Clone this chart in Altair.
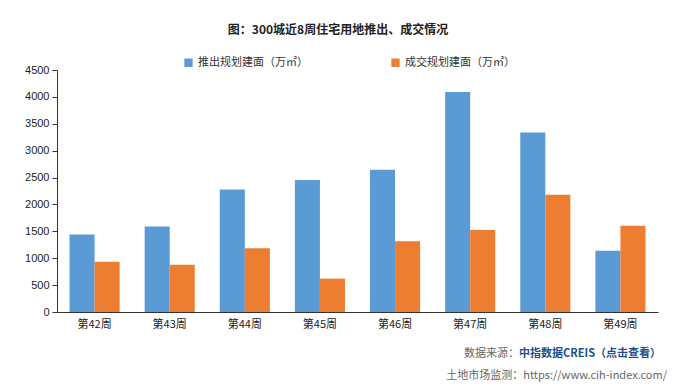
import altair as alt
import pandas as pd

weeks = ["第42周", "第43周", "第44周", "第45周", "第46周", "第47周", "第48周", "第49周"]
supply = [1440, 1590, 2280, 2455, 2645, 4090, 3340, 1140]
deal = [935, 880, 1185, 620, 1315, 1525, 2180, 1605]
series = ["推出规划建面（万㎡）", "成交规划建面（万㎡）"]
colors = ["#5B9BD5", "#ED7D31"]

title_text = "图：300城近8周住宅用地推出、成交情况"
src_label = "数据来源："
src_link = "中指数据CREIS（点击查看）"
src_line2 = "土地市场监测：https://www.cih-index.com/"

rows = []
for w, s, d in zip(weeks, supply, deal):
    rows.append({"week": w, "series": series[0], "value": s})
    rows.append({"week": w, "series": series[1], "value": d})
df = pd.DataFrame(rows)

FONT = "Liberation Sans, Noto Sans CJK SC, sans-serif"
CJK = "Noto Sans CJK SC, sans-serif"

bars = alt.Chart(df).mark_bar().encode(
    x=alt.X("week:N", sort=weeks, title=None,
            scale=alt.Scale(paddingInner=0.333, paddingOuter=0.1667),
            axis=alt.Axis(labelAngle=0, ticks=False, domainColor="#333333",
                          labelColor="#222222", labelFontSize=11, labelFont=CJK,
                          labelPadding=6)),
    xOffset=alt.XOffset("series:N", sort=series, scale=alt.Scale(paddingInner=0, paddingOuter=0)),
    y=alt.Y("value:Q", title=None,
            scale=alt.Scale(domain=[0, 4500], nice=False),
            axis=alt.Axis(values=list(range(0, 4501, 500)), grid=False, format="d",
                          domainColor="#333333", tickColor="#333333", tickSize=5,
                          labelColor="#222222", labelFontSize=11, labelFont=FONT,
                          labelPadding=3)),
    color=alt.Color("series:N", sort=series,
                    scale=alt.Scale(domain=series, range=colors),
                    legend=alt.Legend(title=None, orient="none", direction="horizontal",
                                      legendX=126, legendY=-13, symbolType="square",
                                      symbolSize=70, symbolStrokeWidth=0,
                                      labelFontSize=11, labelFont=CJK, labelColor="#333333",
                                      columnPadding=82, labelLimit=300)),
)

title = alt.Chart(pd.DataFrame({"t": [title_text]})).mark_text(
    font=CJK, fontSize=12, fontWeight="bold", color="#222222", align="center", baseline="middle"
).encode(text="t:N", x=alt.value(281), y=alt.value(-40))

src1 = alt.Chart(pd.DataFrame({"t": [src_label]})).mark_text(
    font=CJK, fontSize=11, color="#666666", align="right", baseline="middle"
).encode(text="t:N", x=alt.value(462), y=alt.value(284))

src2 = alt.Chart(pd.DataFrame({"t": [src_link]})).mark_text(
    font=CJK, fontSize=11, fontWeight="bold", color="#1F4E8C", align="right", baseline="middle"
).encode(text="t:N", x=alt.value(604), y=alt.value(284))

src3 = alt.Chart(pd.DataFrame({"t": [src_line2]})).mark_text(
    font=CJK, fontSize=11, color="#666666", align="right", baseline="middle"
).encode(text="t:N", x=alt.value(610), y=alt.value(306))

chart = alt.layer(bars, title, src1, src2, src3).properties(
    width=601, height=242,
    background="white",
    autosize=alt.AutoSizeParams(type="none"),
    padding={"left": 49, "top": 62, "right": 19, "bottom": 70},
).configure_view(stroke=None, strokeWidth=0)

chart.save("out.html", embed_options={"renderer": "svg", "actions": False})
